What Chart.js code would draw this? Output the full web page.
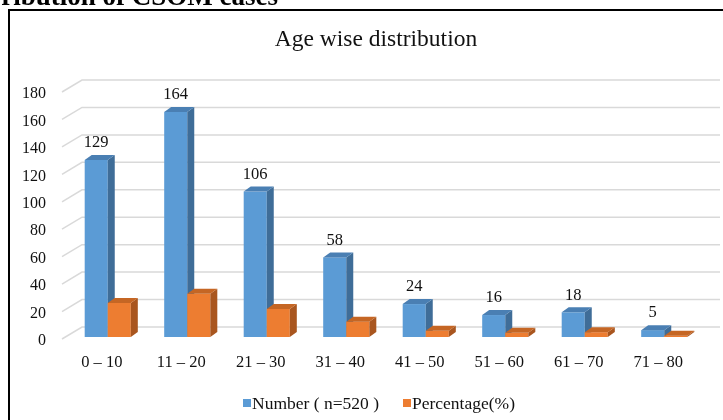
<!DOCTYPE html>
<html>
<head>
<meta charset="utf-8">
<title>Age wise distribution</title>
<script src="https://cdn.jsdelivr.net/npm/chart.js@4.4.1/dist/chart.umd.min.js"></script>
<style>
  html, body { margin: 0; padding: 0; background: #fff; }
  #wrap { position: relative; width: 723px; height: 420px; overflow: hidden; }
</style>
</head>
<body>
<div id="wrap"><canvas id="chart" width="723" height="420"></canvas></div>
<script>
// --------- Datos ---------
const CATEGORIES = ["0 – 10", "11 – 20", "21 – 30", "31 – 40", "41 – 50", "51 – 60", "61 – 70", "71 – 80"];
const NUMBER = [129, 164, 106, 58, 24, 16, 18, 5];
const PERCENT = [24.8, 31.5, 20.4, 11.2, 4.6, 3.1, 3.5, 1.0];
const Y_TICKS = [0, 20, 40, 60, 80, 100, 120, 140, 160, 180];
const SERIES_LABELS = ["Number ( n=520 )", "Percentage(%)"];

const SERIF = "'Liberation Serif', 'Times New Roman', serif";

// front / side / top colours per series
const FACES = [
    { front: "#5B9BD5", side: "#3F6D98", top: "#4A7FB3" },
    { front: "#ED7D31", side: "#A9561F", top: "#C56624" },
];
const DEPTH_X = 7;
const DEPTH_Y = 5;

// --------- Plugin: marco, rejilla 3D, barras 3D, leyenda ---------
const frame3d = {
    id: "frame3d",
    beforeDraw(chart) {
        const ctx = chart.ctx;
        ctx.save();
        ctx.fillStyle = "#fff";
        ctx.fillRect(0, 0, chart.width, chart.height);

        // heading cut off by the crop
        ctx.fillStyle = "#000";
        ctx.font = "bold 27px " + SERIF;
        ctx.textAlign = "right";
        ctx.textBaseline = "alphabetic";
        ctx.fillText("ribution of CSOM cases", 278, 5);

        // chart border
        ctx.fillRect(8, 9, chart.width - 8, 2);
        ctx.fillRect(8, 9, 2, chart.height - 9);

        // title
        ctx.fillStyle = "#111";
        ctx.font = "23.5px " + SERIF;
        ctx.textAlign = "center";
        ctx.fillText("Age wise distribution", 376, 46);
        ctx.restore();
    },
    beforeDatasetsDraw(chart) {
        // back wall grid with a short perspective line on the left
        const ctx = chart.ctx;
        const y = chart.scales.y;
        const left = chart.chartArea.left;
        ctx.save();
        ctx.strokeStyle = "#D9D9D9";
        ctx.lineWidth = 1.5;
        Y_TICKS.forEach((v) => {
            const py = y.getPixelForValue(v);
            ctx.beginPath();
            ctx.moveTo(left - 6, py + 2);
            ctx.lineTo(left + 14, py - 10);
            ctx.lineTo(chart.width - 3, py - 10);
            ctx.stroke();
        });
        ctx.restore();
    },
    beforeDatasetDraw() {
        return false; // bars are drawn below, in category order
    },
    afterDatasetsDraw(chart) {
        const ctx = chart.ctx;
        const metas = chart.data.datasets.map((d, i) => chart.getDatasetMeta(i));
        ctx.save();
        CATEGORIES.forEach((c, ci) => {
            metas.forEach((meta, di) => {
                const bar = meta.data[ci];
                const f = FACES[di];
                const x0 = bar.x - bar.width / 2;
                const x1 = bar.x + bar.width / 2;
                const top = bar.y;
                const base = bar.base;
                ctx.fillStyle = f.front;
                ctx.fillRect(x0, top, x1 - x0, base - top);
                ctx.fillStyle = f.side;
                ctx.beginPath();
                ctx.moveTo(x1, top);
                ctx.lineTo(x1 + DEPTH_X, top - DEPTH_Y);
                ctx.lineTo(x1 + DEPTH_X, base - DEPTH_Y);
                ctx.lineTo(x1, base);
                ctx.closePath();
                ctx.fill();
                ctx.fillStyle = f.top;
                ctx.beginPath();
                ctx.moveTo(x0, top);
                ctx.lineTo(x0 + DEPTH_X, top - DEPTH_Y);
                ctx.lineTo(x1 + DEPTH_X, top - DEPTH_Y);
                ctx.lineTo(x1, top);
                ctx.closePath();
                ctx.fill();
            });
            // value label above the blue bar
            const b = metas[0].data[ci];
            ctx.fillStyle = "#111";
            ctx.font = "16.5px " + SERIF;
            ctx.textAlign = "center";
            ctx.textBaseline = "middle";
            ctx.fillText(String(NUMBER[ci]), b.x, b.y - 17);
        });
        ctx.restore();
    },
    afterDraw(chart) {
        // legend
        const ctx = chart.ctx;
        ctx.save();
        ctx.font = "17.5px " + SERIF;
        ctx.textBaseline = "middle";
        ctx.textAlign = "left";
        const box = 8, gap = 1, spacing = 24;
        const widths = SERIES_LABELS.map((t) => ctx.measureText(t).width);
        const total = widths.reduce((a, w) => a + box + gap + w, 0) + spacing * (SERIES_LABELS.length - 1);
        let x = 379 - total / 2;
        const cy = 403;
        SERIES_LABELS.forEach((t, i) => {
            ctx.fillStyle = FACES[i].front;
            ctx.fillRect(x, cy - box / 2, box, box);
            ctx.fillStyle = "#111";
            ctx.fillText(t, x + box + gap, cy + 1);
            x += box + gap + widths[i] + spacing;
        });
        ctx.restore();
    },
};

new Chart(document.getElementById("chart"), {
    type: "bar",
    data: {
        labels: CATEGORIES,
        datasets: [
            { label: SERIES_LABELS[0], data: NUMBER, backgroundColor: FACES[0].front },
            { label: SERIES_LABELS[1], data: PERCENT, backgroundColor: FACES[1].front },
        ],
    },
    options: {
        responsive: false,
        animation: false,
        devicePixelRatio: 1,
        layout: { padding: { top: 90, right: 19, bottom: 0, left: 0 } },
        categoryPercentage: 0.58,
        barPercentage: 1,
        plugins: {
            legend: { display: false },
            title: { display: false },
            tooltip: { enabled: false },
        },
        scales: {
            x: {
                grid: { display: false, drawTicks: false },
                border: { display: false },
                ticks: {
                    color: "#111",
                    font: { family: SERIF, size: 16.5 },
                    padding: 16,
                    labelOffset: -6,
                    maxRotation: 0,
                },
                afterFit: (s) => { s.height = 83; },
            },
            y: {
                min: 0,
                max: 180,
                grid: { display: false, drawTicks: false },
                border: { display: false },
                ticks: {
                    stepSize: 20,
                    color: "#111",
                    font: { family: SERIF, size: 16 },
                    padding: 22,
                    labelOffset: 4,
                },
                afterFit: (s) => { s.width = 68; },
            },
        },
    },
    plugins: [frame3d],
});
</script>
</body>
</html>
